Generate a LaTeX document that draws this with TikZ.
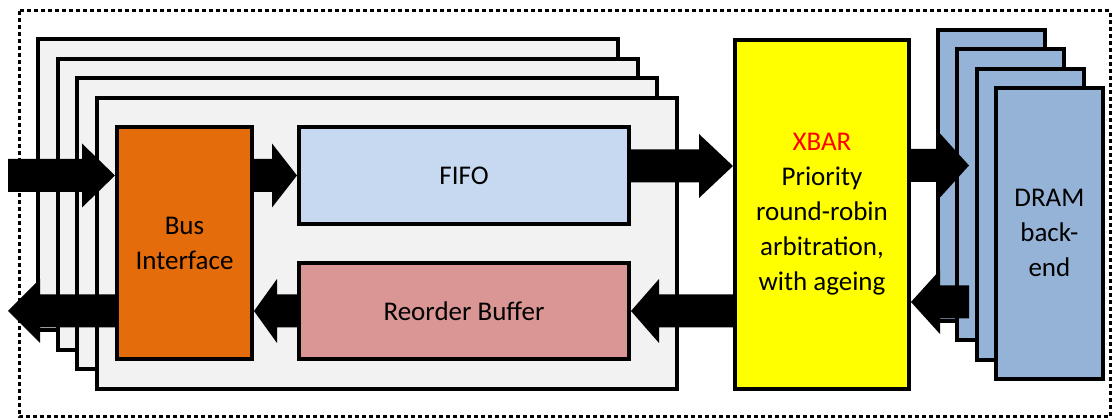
\documentclass[tikz,border=0pt]{standalone}
\usepackage{fontspec}
\setmainfont{Carlito}
\usetikzlibrary{calc}
\definecolor{bggray}{HTML}{F2F2F2}
\definecolor{busor}{HTML}{E46C0A}
\definecolor{fifob}{HTML}{C6D9F1}
\definecolor{robr}{HTML}{DA9694}
\definecolor{xbary}{HTML}{FFFF00}
\definecolor{dramb}{HTML}{95B3D7}
\definecolor{xred}{HTML}{FF0000}
\newcommand\blockarrow[3]{%
  \fill[black] let \p1=(#1), \p2=(#2), \n1={sign(\x2-\x1)} in
    ({\x1},{\y1+16.5pt}) -- ({\x2-(\n1*#3pt)},{\y1+16.5pt}) --
    ({\x2-(\n1*#3pt)},{\y1+32pt}) -- ({\x2},{\y1}) --
    ({\x2-(\n1*#3pt)},{\y1-32pt}) -- ({\x2-(\n1*#3pt)},{\y1-16.5pt}) --
    ({\x1},{\y1-16.5pt}) -- cycle;}
\tikzset{
  blk/.style={draw=black, line width=4pt, rectangle, inner sep=0pt, align=center,
    font=\fontsize{27}{35}\selectfont},
  bgbox/.style={blk, fill=bggray, minimum width=580pt, minimum height=291pt},
  drambox/.style={blk, fill=dramb, minimum width=107pt, minimum height=291pt},
  border/.style={draw=black, line width=3pt, dash pattern=on 4pt off 3pt}
}
\begin{document}
\begin{tikzpicture}[x=1pt,y=-1pt]
\useasboundingbox (0,0) rectangle (1112,419);
\draw[border] (19,11) rectangle (1110,417);
% stacked port boxes
\node[bgbox] (bg1) at (328,185) {};
\node[bgbox] (bg2) at (347.5,204.5) {};
\node[bgbox] (bg3) at (367,224) {};
\node[bgbox] (bg4) at (386.5,243.5) {};
% inner blocks
\node[blk, fill=busor, minimum width=135pt, minimum height=232pt] (bus) at (184.5,243) {Bus\\Interface};
\node[blk, fill=fifob, minimum width=330pt, minimum height=97pt] (fifo) at (464,175.5) {FIFO};
\node[blk, fill=robr, minimum width=330pt, minimum height=96pt] (rob) at (464,311) {Reorder Buffer};
% crossbar
\node[blk, fill=xbary, minimum width=174pt, minimum height=349pt] (xbar) at (822,214.5)
  {\textcolor{xred}{XBAR}\\Priority\\round-robin\\arbitration,\\with ageing};
% DRAM back-ends
\node[drambox] (dram1) at (991.5,175.5) {};
\node[drambox] (dram2) at (1010.8,194.8) {};
\node[drambox] (dram3) at (1030.1,214.1) {};
\node[drambox] (dram4) at (1049.4,233.4) {DRAM\\back-\\end};
% free ends
\coordinate (inport) at (8,175.5);
\coordinate (outport) at (8,311);
\coordinate (fifoout) at ($(fifo.east)+(0,-9.5)$);
\coordinate (dramin) at (969,165.5);
\coordinate (dramout) at (969,302);
% arrows
\blockarrow{inport}{bus.west |- inport}{33}
\blockarrow{bus.east |- fifo.west}{fifo.west}{25}
\blockarrow{fifoout}{xbar.west |- fifoout}{34}
\blockarrow{xbar.east |- dramin}{dramin}{29}
\blockarrow{dramout}{xbar.east |- dramout}{29}
\blockarrow{xbar.west |- rob.east}{rob.east}{28}
\blockarrow{rob.west}{bus.east |- rob.west}{23}
\blockarrow{bus.west |- rob.west}{outport}{32}
\end{tikzpicture}
\end{document}
